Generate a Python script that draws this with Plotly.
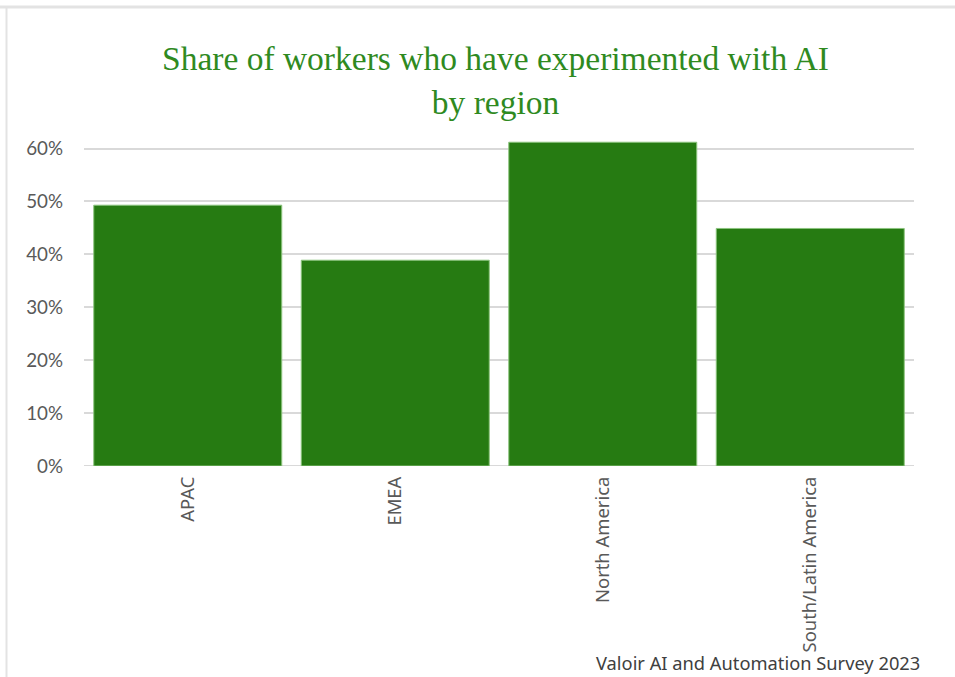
import plotly.graph_objects as go

# Survey results: share of workers who have experimented with AI, by region
regions = ["APAC", "EMEA", "North America", "South/Latin America"]
share = [0.493, 0.389, 0.612, 0.449]
y_ticks = [0, 0.1, 0.2, 0.3, 0.4, 0.5, 0.6]
y_tick_labels = ["0%", "10%", "20%", "30%", "40%", "50%", "60%"]

title_text = "Share of workers who have experimented with AI<br>by region"
source_text = "Valoir AI and Automation Survey 2023"

W, H = 955, 677
L, R, T, B = 84, 41, 138, 211
plot_w = W - L - R
plot_h = H - T - B


def px_x(x):
    return (x - L) / plot_w


def px_y(y):
    return (H - B - y) / plot_h


fig = go.Figure(
    go.Bar(
        x=regions,
        y=share,
        marker=dict(color="#267b12", line=dict(color="#8cc47e", width=1)),
        hoverinfo="x+y",
    )
)

fig.update_layout(
    width=W,
    height=H,
    margin=dict(l=L, r=R, t=T, b=B),
    paper_bgcolor="white",
    plot_bgcolor="white",
    bargap=0.094,
    showlegend=False,
    font=dict(family="Lato, sans-serif", color="#595959"),
)

fig.update_yaxes(
    range=[0, 0.62],
    tickvals=y_ticks,
    ticktext=y_tick_labels,
    showgrid=True,
    gridcolor="#d9d9d9",
    gridwidth=2,
    zeroline=False,
    showline=False,
    ticks="",
    ticklabelstandoff=20,
    tickfont=dict(family="Lato, sans-serif", size=18.8, color="#595959"),
)

fig.update_xaxes(
    tickangle=-90,
    showline=False,
    ticks="",
    ticklabelstandoff=6,
    tickfont=dict(family="Noto Sans, sans-serif", size=18.4, color="#595959"),
)

# Baseline under the bars
fig.add_shape(type="line", xref="paper", yref="y", x0=0, x1=1, y0=0, y1=0,
              line=dict(color="#d9d9d9", width=2), layer="below")

# Card edges: top and left borders
fig.add_shape(type="line", xref="paper", yref="paper",
              x0=px_x(0), x1=px_x(W), y0=px_y(7), y1=px_y(7),
              line=dict(color="#e3e3e3", width=3))
fig.add_shape(type="line", xref="paper", yref="paper",
              x0=px_x(6.5), x1=px_x(6.5), y0=px_y(6), y1=px_y(H),
              line=dict(color="#e3e3e3", width=2))

# Title
fig.add_annotation(
    text=title_text,
    xref="paper", yref="paper",
    x=px_x(495), y=px_y(81),
    xanchor="center", yanchor="middle",
    showarrow=False,
    font=dict(family="Liberation Serif, serif", size=33.5, color="#2f8a1f"),
)

# Source note
fig.add_annotation(
    text=source_text,
    xref="paper", yref="paper",
    x=px_x(922), y=px_y(662),
    xanchor="right", yanchor="middle",
    showarrow=False,
    font=dict(family="Noto Sans, sans-serif", size=18.3, color="#404040"),
)

fig.write_html("out.html")
